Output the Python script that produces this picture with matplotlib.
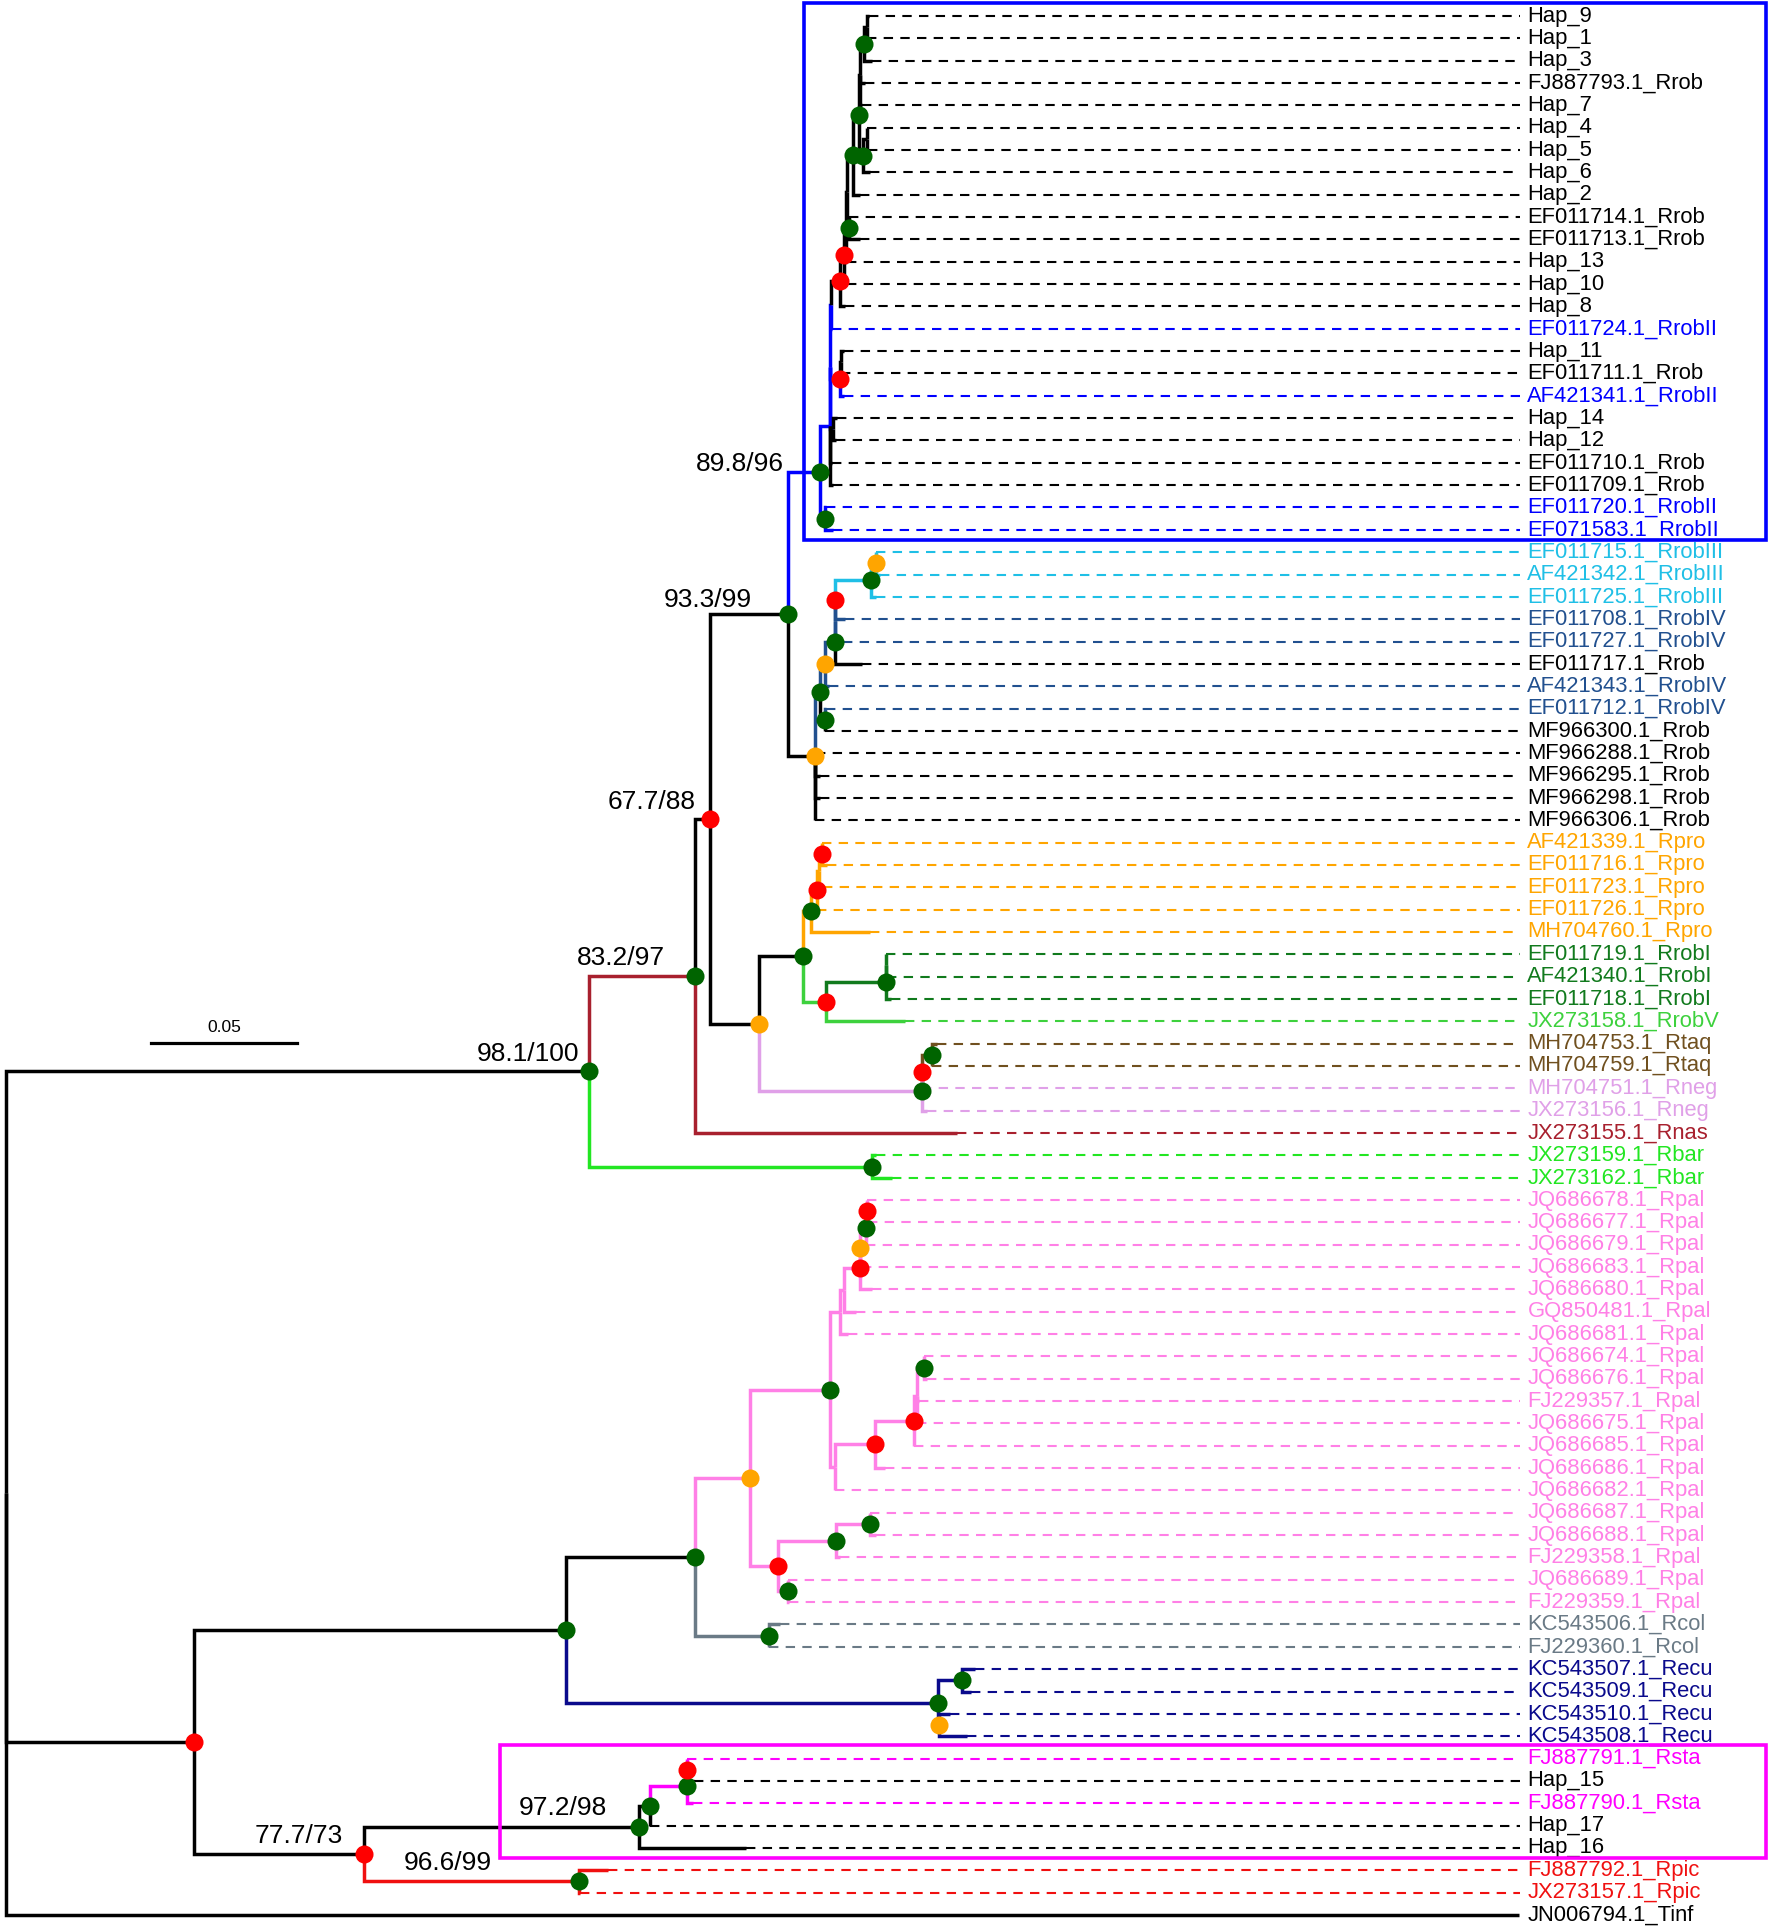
import matplotlib
matplotlib.use("Agg")
import matplotlib.pyplot as plt
from matplotlib.patches import Rectangle
from matplotlib.transforms import offset_copy

plt.rcParams['font.family'] = ['Liberation Sans', 'DejaVu Sans']

# Tips from top to bottom and their distance from the root (subst./site)
tips = [
    'Hap_9', 'Hap_1', 'Hap_3', 'FJ887793.1_Rrob', 'Hap_7', 'Hap_4', 'Hap_5', 'Hap_6',
    'Hap_2', 'EF011714.1_Rrob', 'EF011713.1_Rrob', 'Hap_13', 'Hap_10', 'Hap_8',
    'EF011724.1_RrobII', 'Hap_11', 'EF011711.1_Rrob', 'AF421341.1_RrobII', 'Hap_14',
    'Hap_12', 'EF011710.1_Rrob', 'EF011709.1_Rrob', 'EF011720.1_RrobII',
    'EF071583.1_RrobII', 'EF011715.1_RrobIII', 'AF421342.1_RrobIII',
    'EF011725.1_RrobIII', 'EF011708.1_RrobIV', 'EF011727.1_RrobIV', 'EF011717.1_Rrob',
    'AF421343.1_RrobIV', 'EF011712.1_RrobIV', 'MF966300.1_Rrob', 'MF966288.1_Rrob',
    'MF966295.1_Rrob', 'MF966298.1_Rrob', 'MF966306.1_Rrob', 'AF421339.1_Rpro',
    'EF011716.1_Rpro', 'EF011723.1_Rpro', 'EF011726.1_Rpro', 'MH704760.1_Rpro',
    'EF011719.1_RrobI', 'AF421340.1_RrobI', 'EF011718.1_RrobI', 'JX273158.1_RrobV',
    'MH704753.1_Rtaq', 'MH704759.1_Rtaq', 'MH704751.1_Rneg', 'JX273156.1_Rneg',
    'JX273155.1_Rnas', 'JX273159.1_Rbar', 'JX273162.1_Rbar', 'JQ686678.1_Rpal',
    'JQ686677.1_Rpal', 'JQ686679.1_Rpal', 'JQ686683.1_Rpal', 'JQ686680.1_Rpal',
    'GQ850481.1_Rpal', 'JQ686681.1_Rpal', 'JQ686674.1_Rpal', 'JQ686676.1_Rpal',
    'FJ229357.1_Rpal', 'JQ686675.1_Rpal', 'JQ686685.1_Rpal', 'JQ686686.1_Rpal',
    'JQ686682.1_Rpal', 'JQ686687.1_Rpal', 'JQ686688.1_Rpal', 'FJ229358.1_Rpal',
    'JQ686689.1_Rpal', 'FJ229359.1_Rpal', 'KC543506.1_Rcol', 'FJ229360.1_Rcol',
    'KC543507.1_Recu', 'KC543509.1_Recu', 'KC543510.1_Recu', 'KC543508.1_Recu',
    'FJ887791.1_Rsta', 'Hap_15', 'FJ887790.1_Rsta', 'Hap_17', 'Hap_16',
    'FJ887792.1_Rpic', 'JX273157.1_Rpic', 'JN006794.1_Tinf',
]
tip_depth = [
    0.2970, 0.2962, 0.2979, 0.2958, 0.2945, 0.2962, 0.2966, 0.2975,
    0.2941, 0.2903, 0.2941, 0.2894, 0.2894, 0.2888,
    0.2843, 0.2886, 0.2873, 0.2886, 0.2860,
    0.2856, 0.2843, 0.2847, 0.2822,
    0.2847, 0.2994, 0.3008,
    0.2996, 0.2888, 0.2881, 0.2945,
    0.2831, 0.2822, 0.2818, 0.2788,
    0.2801, 0.2801, 0.2784, 0.2807,
    0.2825, 0.2811, 0.2792, 0.2974,
    0.3030, 0.3034, 0.3045, 0.3094,
    0.3203, 0.3186, 0.3153, 0.3169,
    0.3275, 0.2996, 0.3051, 0.2962,
    0.2966, 0.2960, 0.2945, 0.2979,
    0.2924, 0.2898, 0.3159, 0.3169,
    0.3144, 0.3136, 0.3125, 0.3025,
    0.2852, 0.2975, 0.2996, 0.2869,
    0.2691, 0.2695, 0.2665, 0.2627,
    0.3335, 0.3322, 0.3250, 0.3309,
    0.2345, 0.2369, 0.2364, 0.2216, 0.2547,
    0.2072, 0.1975, 0.5207,
]

# internal nodes: (id, distance from root, children top to bottom)
clades = [
    ('BA', 0.2962, ['Hap_9', 'Hap_1']),
    ('BB', 0.2953, ['BA', 'Hap_3']),
    ('BF', 0.2941, ['BB', 'FJ887793.1_Rrob', 'Hap_7']),
    ('BD1', 0.2962, ['Hap_4', 'Hap_5']),
    ('BD', 0.2949, ['BD1', 'Hap_6']),
    ('BC', 0.2936, ['BF', 'BD']),
    ('BE', 0.2915, ['BC', 'Hap_2']),
    ('BH', 0.2903, ['EF011714.1_Rrob', 'EF011713.1_Rrob']),
    ('BK', 0.2894, ['BE', 'BH']),
    ('BI', 0.2890, ['BK', 'Hap_13']),
    ('BJ', 0.2886, ['BI', 'Hap_10']),
    ('BL', 0.2869, ['BJ', 'Hap_8']),
    ('BM', 0.2839, ['BL', 'EF011724.1_RrobII']),
    ('BP', 0.2873, ['Hap_11', 'EF011711.1_Rrob']),
    ('BO', 0.2869, ['BP', 'AF421341.1_RrobII']),
    ('BQ', 0.2847, ['Hap_14', 'Hap_12']),
    ('BN', 0.2837, ['BM', 'BO', 'BQ']),
    ('AB', 0.2835, ['BN', 'EF011710.1_Rrob', 'EF011709.1_Rrob']),
    ('AA', 0.2818, ['EF011720.1_RrobII', 'EF071583.1_RrobII']),
    ('Z', 0.2801, ['AB', 'AA']),
    ('AF', 0.2994, ['EF011715.1_RrobIII', 'AF421342.1_RrobIII']),
    ('AG', 0.2977, ['AF', 'EF011725.1_RrobIII']),
    ('AH', 0.2855, ['AG', 'EF011708.1_RrobIV']),
    ('AI', 0.2853, ['AH', 'EF011727.1_RrobIV']),
    ('AJ', 0.2852, ['AI', 'EF011717.1_Rrob']),
    ('AK', 0.2818, ['AJ', 'AF421343.1_RrobIV']),
    ('AM', 0.2818, ['EF011712.1_RrobIV', 'MF966300.1_Rrob']),
    ('AL', 0.2801, ['AK', 'AM']),
    ('AD', 0.2784, ['AL', 'MF966288.1_Rrob', 'MF966295.1_Rrob', 'MF966298.1_Rrob',
                    'MF966306.1_Rrob']),
    ('N93', 0.2691, ['Z', 'AD']),
    ('AZ', 0.2807, ['AF421339.1_Rpro', 'EF011716.1_Rpro']),
    ('AZp', 0.2797, ['AZ', 'EF011723.1_Rpro']),
    ('AY', 0.2790, ['AZp', 'EF011726.1_Rpro']),
    ('AW', 0.2771, ['AY', 'MH704760.1_Rpro']),
    ('BA3', 0.3030, ['EF011719.1_RrobI', 'AF421340.1_RrobI']),
    ('BA2', 0.3029, ['BA3', 'EF011718.1_RrobI']),
    ('AX', 0.2822, ['BA2', 'JX273158.1_RrobV']),
    ('AU', 0.2742, ['AW', 'AX']),
    ('BC2', 0.3186, ['MH704753.1_Rtaq', 'MH704759.1_Rtaq']),
    ('BB2', 0.3153, ['BC2', 'MH704751.1_Rneg']),
    ('AV', 0.3152, ['BB2', 'JX273156.1_Rneg']),
    ('AT', 0.2593, ['AU', 'AV']),
    ('N67', 0.2424, ['N93', 'AT']),
    ('N83', 0.2373, ['N67', 'JX273155.1_Rnas']),
    ('RB', 0.2979, ['JX273159.1_Rbar', 'JX273162.1_Rbar']),
    ('B', 0.2008, ['N83', 'RB']),
    ('Q', 0.2962, ['JQ686678.1_Rpal', 'JQ686677.1_Rpal']),
    ('P', 0.2960, ['Q', 'JQ686679.1_Rpal']),
    ('O', 0.2941, ['P', 'JQ686683.1_Rpal']),
    ('N', 0.2939, ['O', 'JQ686680.1_Rpal']),
    ('M', 0.2884, ['N', 'GQ850481.1_Rpal']),
    ('K', 0.2869, ['M', 'JQ686681.1_Rpal']),
    ('U', 0.3159, ['JQ686674.1_Rpal', 'JQ686676.1_Rpal']),
    ('T', 0.3136, ['U', 'FJ229357.1_Rpal', 'JQ686675.1_Rpal']),
    ('S', 0.3125, ['T', 'JQ686685.1_Rpal']),
    ('R', 0.2992, ['S', 'JQ686686.1_Rpal']),
    ('L', 0.2852, ['R', 'JQ686682.1_Rpal']),
    ('F', 0.2835, ['K', 'L']),
    ('J', 0.2975, ['JQ686687.1_Rpal', 'JQ686688.1_Rpal']),
    ('H', 0.2856, ['J', 'FJ229358.1_Rpal']),
    ('I', 0.2691, ['JQ686689.1_Rpal', 'FJ229359.1_Rpal']),
    ('G', 0.2657, ['H', 'I']),
    ('PA', 0.2559, ['F', 'G']),
    ('RC', 0.2627, ['KC543506.1_Rcol', 'FJ229360.1_Rcol']),
    ('E', 0.2373, ['PA', 'RC']),
    ('RE1', 0.3292, ['KC543507.1_Recu', 'KC543509.1_Recu']),
    ('RE2', 0.3212, ['KC543510.1_Recu', 'KC543508.1_Recu']),
    ('RE', 0.3208, ['RE1', 'RE2']),
    ('D', 0.1928, ['E', 'RE']),
    ('Y', 0.2345, ['FJ887791.1_Rsta', 'Hap_15']),
    ('X', 0.2343, ['Y', 'FJ887790.1_Rsta']),
    ('W', 0.2216, ['X', 'Hap_17']),
    ('V', 0.2178, ['W', 'Hap_16']),
    ('RP', 0.1972, ['FJ887792.1_Rpic', 'JX273157.1_Rpic']),
    ('N77', 0.1233, ['V', 'RP']),
    ('C', 0.0648, ['D', 'N77']),
    ('root', 0.0, ['B', 'C', 'JN006794.1_Tinf']),
]

# label colour by the suffix of the sequence name (everything else is black)
group_colors = {
    'RrobII': '#0000ff', 'RrobIII': '#1fbfe6', 'RrobIV': '#21508f',
    'Rpro': '#ffa500', 'RrobI': '#117a1d', 'RrobV': '#3dd13d',
    'Rtaq': '#70501f', 'Rneg': '#e0a0e8', 'Rnas': '#a8202e',
    'Rbar': '#22e622', 'Rpal': '#ff80e6', 'Rcol': '#6a7a86',
    'Recu': '#0a0a8c', 'Rsta': '#ff00ff', 'Rpic': '#f01010',
}

# internal branches whose colour differs from the default rule
branch_colors = {
    'BM': '#0000ff', 'BN': '#0000ff', 'BO': '#0000ff', 'BQ': '#0000ff',
    'AB': '#0000ff', 'Z': '#0000ff',
    'AH': '#21508f', 'AI': '#21508f', 'AJ': '#21508f', 'AK': '#21508f', 'AL': '#21508f',
    'N83': '#a8202e', 'AX': '#3dd13d', 'AV': '#e0a0e8', 'BB2': '#70501f',
    'X': '#ff00ff', 'Y': '#ff00ff',
}

green_nodes = ['B', 'N83', 'N93', 'Z', 'AA', 'BB', 'BC', 'BD', 'BE', 'BH', 'AG', 'AJ',
               'AL', 'AM', 'AU', 'AW', 'BA2', 'AV', 'BC2', 'RB', 'D', 'E', 'F', 'P',
               'U', 'H', 'J', 'I', 'RC', 'RE', 'RE1', 'V', 'W', 'X', 'RP']
red_nodes = ['C', 'N77', 'N67', 'BJ', 'BL', 'BO', 'AH', 'AY', 'AZ', 'AX', 'BB2', 'Q',
             'N', 'R', 'S', 'G', 'Y']
orange_nodes = ['AT', 'AD', 'AK', 'AF', 'RE2', 'PA', 'O']

support_labels = {
    'B': '98.1/100', 'N83': '83.2/97', 'N67': '67.7/88', 'N93': '93.3/99',
    'Z': '89.8/96', 'N77': '77.7/73', 'V': '97.2/98', 'RP': '96.6/99',
}
# (right edge, baseline) offsets of the support values from their node, pixels
support_offsets = {
    'B': (-10, 10), 'N83': (-30, 11), 'N67': (-15, 10), 'N93': (-36, 7),
    'Z': (-36, 1), 'N77': (-21, 11), 'V': (-32, 12), 'RP': (-87, 11),
}

DASH_END = 0.5212
LABEL_X = 0.5237

# ---- build the tree ----
nodes = {}
for name, d in zip(tips, tip_depth):
    nodes[name] = {'name': name, 'x': d, 'children': []}
for name, d, kids in clades:
    nodes[name] = {'name': name, 'x': d, 'children': kids}

leaves = []


def layout(n):
    if not n['children']:
        n['y'] = len(leaves)
        leaves.append(n)
        return
    kids = [nodes[k] for k in n['children']]
    for c in kids:
        layout(c)
    n['y'] = (kids[0]['y'] + kids[-1]['y']) / 2


layout(nodes['root'])
assert [lf['name'] for lf in leaves] == tips


def leaf_color(name):
    return group_colors.get(name.rsplit('_', 1)[-1], 'black')


def leaf_names(n):
    if not n['children']:
        return [n['name']]
    out = []
    for k in n['children']:
        out += leaf_names(nodes[k])
    return out


def branch_color(n):
    if n['name'] in branch_colors:
        return branch_colors[n['name']]
    cols = set(leaf_color(nm) for nm in leaf_names(n))
    return cols.pop() if len(cols) == 1 else 'black'


fig = plt.figure(figsize=(17.7, 19.3), dpi=100)
ax = fig.add_axes([0, 0, 1, 1])
ax.set_xlim(-5 / 2360, 1433 / 2360)
ax.set_ylim((1568 - 13) / 18.15, -13 / 18.15)
ax.axis('off')

LW = 2.5


def draw(n):
    for k in n['children']:
        c = nodes[k]
        ax.plot([n['x'], n['x'], c['x']], [n['y'], c['y'], c['y']],
                color=branch_color(c), lw=LW, solid_joinstyle='miter',
                solid_capstyle='butt', zorder=2)
        draw(c)


draw(nodes['root'])

# dashed leaders and tip labels
for lf in leaves:
    col = leaf_color(lf['name'])
    if lf['x'] < DASH_END - 0.001:
        ax.plot([lf['x'], DASH_END], [lf['y'], lf['y']], color=col, lw=1.5,
                linestyle=(0, (4.5, 3.5)), zorder=1)
    ax.text(LABEL_X, lf['y'], lf['name'], color=col, fontsize=15.8,
            ha='left', va='center')

# support dots
for names, col in [(green_nodes, '#006400'), (red_nodes, '#ff0000'),
                   (orange_nodes, '#ffa500')]:
    ax.plot([nodes[k]['x'] for k in names], [nodes[k]['y'] for k in names], 'o',
            color=col, ms=13, mec='none', zorder=5, linestyle='none')

# support values
for k, txt in support_labels.items():
    dx, dy = support_offsets[k]
    tr = offset_copy(ax.transData, fig=fig, x=dx, y=dy, units='dots')
    ax.text(nodes[k]['x'], nodes[k]['y'], txt, transform=tr, fontsize=19,
            ha='right', va='baseline')

# clade boxes
for first, last, left, col in [('Hap_9', 'EF071583.1_RrobII', 0.2746, '#0000ff'),
                               ('FJ887791.1_Rsta', 'Hap_16', 0.1699, '#ff00ff')]:
    y0 = nodes[first]['y'] - 0.6
    y1 = nodes[last]['y'] + 0.45
    ax.add_patch(Rectangle((left, y0), 0.6059 - left, y1 - y0, fill=False,
                           edgecolor=col, lw=2.6, zorder=3))

# scale bar
ax.plot([0.05, 0.10], [45.95, 45.95], color='black', lw=2.3)
ax.text(0.075, 45.5, '0.05', fontsize=12.5, ha='center', va='baseline')

fig.savefig('out.png', dpi=100)
